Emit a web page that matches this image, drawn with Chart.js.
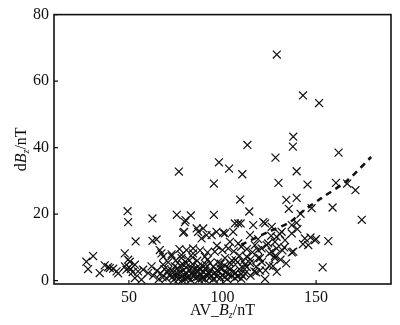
<!DOCTYPE html>
<html>
<head>
<meta charset="utf-8">
<script src="https://cdn.jsdelivr.net/npm/chart.js@4.4.1/dist/chart.umd.min.js"></script>
<style>
html,body{margin:0;padding:0;background:#fff;}
#wrap{width:400px;height:325px;position:relative;}
</style>
</head>
<body>
<div id="wrap"><canvas id="c" width="400" height="325"></canvas></div>
<script>
// AV_Bz (nT) values
const avBz = [
129,143,151.6,137.8,137.6,113.3,162,128.3,98.1,103.5,110.6,76.7,139.6,95.4,129.9,145.4,160.6,166.6,171,109.4,
134.1,139.6,114.3,135.4,147.6,158.8,174.4,141.7,95.4,49.3,49.6,62.6,75.6,80.3,83.1,79.5,86.2,53.6,62.6,64.8,
66.5,68.3,47.8,30.9,27.3,28.2,34.4,37.1,38.9,39.8,41.6,43.4,44.3,47.9,48.7,49.6,50.5,53.2,54.9,57.6,
60.3,62.1,53.2,56.7,51,52,50,
109.7,116.4,121.8,126.3,131.6,137,128.9,133.4,144,149.4,156.5,145.8,137.8,153.5,122.7,128,128.9,124.4,120.9,120,
114.7,117.3,112.9,111.1,108.4,105.7,101.3,104,89.7,91.5,96.8,106.6,79.9,79,87,88.8,94.2,100.4,72.8,78.1,
80.8,84.3,67.4,72.8,78.1,84.3,90.6,95.9,101.3,68.3,74.5,80.8,87,93.3,98.6,108.4,122.7,139.6,114.7,130.7,
137,128,123.6,103.1,126.3,137,119.1,128,104,112,103.1,106.6,143,147,140,150,118,115,110,108,
63,65,66,67,68,69,70,70.5,71,72,73,74,74.5,75,75.5,76,76.5,77,77.5,78,
78.5,79,79.5,80,80.5,81,81.5,82,82.5,83,83.5,84,84.5,85,85.5,86,86.5,87,87.5,88,
88.5,89,89.5,90,90.5,91,91.5,92,92.5,93,93.5,94,95,95.5,96,97,97.5,98,99,99.5,
100,101,102,102.5,104,105,106,107,108,109,110,111,112,113,116,118,120,125,119,126,133,
71,73.5,76,79,81,83,85,87,89,91,93,95,97,99,101,103,105,107,109,111,
113,115,117,119,121,123,125,127,129,131,132,134,84,88,92,77,97,100,106,110
];
// dBz (nT) values
const dBz = [
68,55.7,53.4,43.3,40.3,40.8,38.5,37,35.6,33.7,32,32.8,32.9,29.2,29.4,28.9,29.4,29.2,27.2,24.4,
24.3,24.9,20.8,21.6,21.8,22,18.3,20.1,19.8,20.9,17.6,18.7,19.8,18.2,19.6,14.7,15.7,11.8,12,12.4,
9.2,7.2,8.2,7.4,5.7,3.5,2.3,4.6,4.1,3.8,3.6,2.8,2.2,4.3,3.3,6.3,5.7,4.8,2.8,3.3,
2.3,4.3,0.8,0.3,3.5,2.6,4,
17.2,16.7,17.6,16.2,14.7,16.7,13.2,12.2,12.7,12.2,11.9,10.7,8.7,4.0,0.5,6.8,9.7,11.2,9.7,6.8,
5.3,10.7,7.2,3.8,11.2,14.7,14.2,11.7,15.7,13.7,14.7,17.2,17.6,14.4,14.7,12.7,13.7,14.4,7.9,7.7,
9.2,9.7,8.2,7.4,6.8,8.2,7.2,8.7,6.8,4.8,4.3,5.3,4.3,5.3,3.8,17.2,17.2,17.4,13.7,14,
14.2,11.7,10.7,9.7,8.7,8.5,6.8,7.4,5.3,4.8,1.8,0.8,11,13,15.5,12.5,2.5,1.5,2,5.5,
1.5,3,0.5,2.2,1,3.5,0.8,2.5,5.5,1.5,3,0.3,2,6,1,3.8,0.5,2.5,4.5,1.2,
0.2,3,1.8,0.6,4,2.2,6.5,1,3.2,0.3,2,5,1.5,3.5,0.8,2.8,6,1.2,0.4,3.3,
2,4.5,1,2.6,0.5,3.8,1.6,6.3,2.3,0.8,3,1.5,4.2,0.6,2.4,1.2,5.5,2.8,0.9,3.6,
1.8,4.6,2.6,0.5,3.3,1.4,2.8,6.2,1.2,3.5,0.6,5.8,2.2,9.5,8.5,4.2,3,4.5,12.5,13.5,10,
3.2,1.2,2.1,4.8,0.9,3.7,1.9,2.9,0.7,4.9,2.1,0.4,3.1,5.1,1.1,3.9,6.1,2.3,7.5,1.3,
4.1,6.4,2.8,9.2,5.6,3.1,8.2,4.4,2.7,6.3,9.1,5.2,7,9.1,8.5,9.5,10.5,9.2,8.8,10.2
];
// dashed trend curve
const trendX = [110, 125, 136, 142.3, 153, 166.4, 179.4];
const trendY = [10.8, 14.8, 17.6, 20.6, 24.9, 30, 37.2];
const xTicks = [50, 100, 150];
const yTicks = [0, 20, 40, 60, 80];
const xTitle = ["AV_", "B", "z", "/nT"];
const yTitle = ["d", "B", "z", "/nT"];

const FONT = "'Liberation Serif', 'Times New Roman', serif";

function drawStyled(ctx, parts, x, y) {
  const f = [
    "16px " + FONT, "italic 16px " + FONT, "italic 10px " + FONT, "16px " + FONT
  ];
  const w = parts.map((p, i) => { ctx.font = f[i]; return ctx.measureText(p).width; });
  let cx = x - w.reduce((a, b) => a + b, 0) / 2;
  parts.forEach((p, i) => {
    ctx.font = f[i];
    ctx.fillText(p, cx, i === 2 ? y + 3 : y);
    cx += w[i];
  });
}

const framePlugin = {
  id: 'frame',
  afterDraw(chart) {
    const ctx = chart.ctx, a = chart.chartArea;
    const xs = chart.scales.x, ys = chart.scales.y;
    ctx.save();
    ctx.strokeStyle = '#111';
    ctx.lineWidth = 1.6;
    ctx.strokeRect(a.left, a.top, a.right - a.left, a.bottom - a.top);
    ctx.lineWidth = 1.2;
    ctx.beginPath();
    xTicks.forEach(v => {
      const px = xs.getPixelForValue(v);
      ctx.moveTo(px, a.bottom); ctx.lineTo(px, a.bottom - 4);
    });
    yTicks.forEach(v => {
      const py = ys.getPixelForValue(v);
      ctx.moveTo(a.left, py); ctx.lineTo(a.left + 4, py);
    });
    ctx.stroke();
    ctx.fillStyle = '#111';
    ctx.textAlign = 'left';
    ctx.textBaseline = 'alphabetic';
    drawStyled(ctx, xTitle, (a.left + a.right) / 2, 315);
    ctx.translate(26, (a.top + a.bottom) / 2);
    ctx.rotate(-Math.PI / 2);
    drawStyled(ctx, yTitle, 0, 0);
    ctx.restore();
  }
};

const points = avBz.map((x, i) => ({ x: x, y: dBz[i] }));
const trend = trendX.map((x, i) => ({ x: x, y: trendY[i] }));

new Chart(document.getElementById('c'), {
  type: 'scatter',
  data: {
    datasets: [
      {
        data: points,
        pointStyle: 'crossRot',
        pointRadius: 5.6,
        pointBorderWidth: 1.2,
        borderColor: '#111',
        backgroundColor: '#111'
      },
      {
        type: 'line',
        data: trend,
        borderColor: '#111',
        borderWidth: 2.6,
        borderDash: [6, 5],
        pointRadius: 0,
        tension: 0.3,
        fill: false
      }
    ]
  },
  options: {
    responsive: false,
    animation: false,
    devicePixelRatio: 1,
    layout: { padding: { left: 0, right: 9, top: 12, bottom: 0 } },
    plugins: { legend: { display: false }, tooltip: { enabled: false } },
    scales: {
      x: {
        type: 'linear', min: 10, max: 190,
        afterBuildTicks: s => { s.ticks = xTicks.map(v => ({ value: v })); },
        afterFit: s => { s.height = 41; },
        grid: { display: false, drawTicks: false },
        border: { display: false },
        ticks: { color: '#111', padding: 4, font: { family: FONT, size: 16 } }
      },
      y: {
        type: 'linear', min: -1, max: 80,
        afterBuildTicks: s => { s.ticks = yTicks.map(v => ({ value: v })); },
        afterFit: s => { s.width = 54; },
        grid: { display: false, drawTicks: false },
        border: { display: false },
        ticks: { color: '#111', padding: 5, font: { family: FONT, size: 16 } }
      }
    }
  },
  plugins: [framePlugin]
});
</script>
</body>
</html>
